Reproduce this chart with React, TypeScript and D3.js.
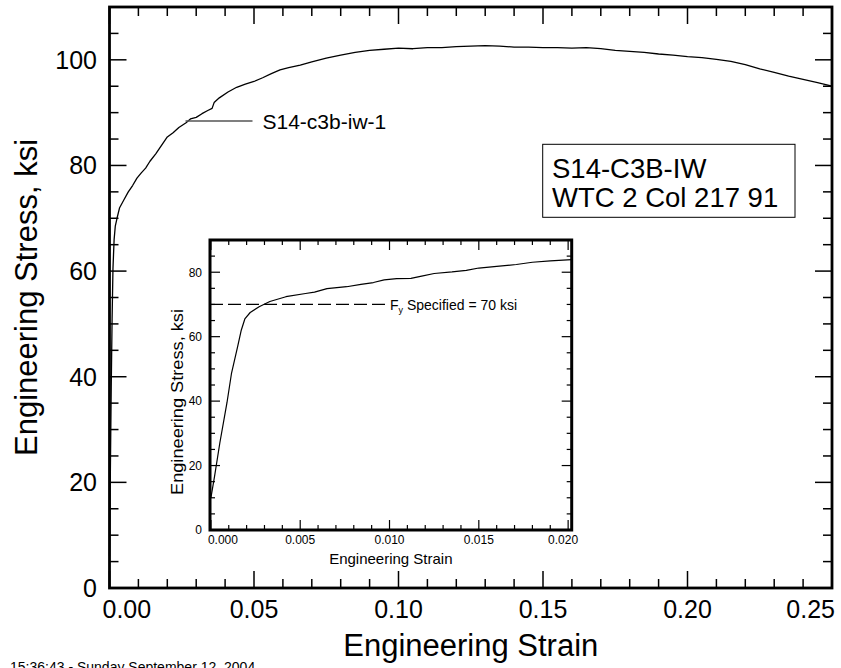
import React from 'react';
import * as d3 from 'd3';

// ---- Data ----
const mainStrain = [0.0, 0.0003, 0.0006, 0.0009, 0.0012, 0.0016, 0.002, 0.0026, 0.0035, 0.005, 0.0065, 0.008, 0.0095, 0.011, 0.0125, 0.014, 0.016, 0.018, 0.02, 0.022, 0.024, 0.0265, 0.028, 0.03, 0.032, 0.034, 0.0355, 0.0362, 0.038, 0.041, 0.044, 0.047, 0.05, 0.053, 0.056, 0.059, 0.062, 0.066, 0.07, 0.075, 0.08, 0.085, 0.09, 0.095, 0.1, 0.105, 0.11, 0.115, 0.12, 0.125, 0.13, 0.135, 0.14, 0.145, 0.15, 0.155, 0.16, 0.165, 0.17, 0.175, 0.18, 0.185, 0.19, 0.195, 0.2, 0.205, 0.21, 0.215, 0.22, 0.225, 0.23, 0.235, 0.24, 0.245, 0.25];
const mainStress = [6, 22, 38, 51, 60.5, 66, 68.5, 70, 72, 73.5, 75, 76.2, 77.6, 78.6, 79.5, 80.8, 82.2, 83.8, 85.4, 86.2, 87.2, 88.1, 88.8, 89.1, 89.8, 90.4, 90.8, 91.9, 92.8, 93.9, 94.8, 95.4, 95.9, 96.6, 97.4, 98.1, 98.5, 99.0, 99.6, 100.3, 100.9, 101.4, 101.8, 102.0, 102.2, 102.1, 102.3, 102.3, 102.5, 102.6, 102.7, 102.6, 102.4, 102.4, 102.3, 102.3, 102.2, 102.3, 102.1, 101.8, 101.6, 101.4, 101.1, 100.9, 100.6, 100.4, 100.1, 99.7, 99.1, 98.3, 97.6, 96.9, 96.3, 95.7, 95.0];

const insetStrain = [0, 0.0002, 0.0005, 0.0009, 0.00115, 0.0015, 0.0017, 0.0019, 0.0022, 0.0027, 0.0033, 0.0042, 0.0053, 0.0058, 0.0065, 0.0076, 0.0084, 0.0091, 0.0097, 0.0104, 0.0112, 0.0118, 0.0125, 0.0135, 0.0143, 0.015, 0.016, 0.0171, 0.018, 0.019, 0.0202];
const insetStress = [10, 16.5, 27, 39.5, 48.5, 57, 62, 65.5, 67.5, 69.3, 70.9, 72.4, 73.4, 73.8, 74.9, 75.5, 76.2, 76.8, 77.6, 78.0, 78.1, 78.8, 79.6, 80.1, 80.6, 81.3, 81.8, 82.4, 83.1, 83.5, 83.9];

const mainXTicks = [0, 0.05, 0.1, 0.15, 0.2, 0.25];
const mainXTickLabels = ['0.00', '0.05', '0.10', '0.15', '0.20', '0.25'];
const mainYTicks = [0, 20, 40, 60, 80, 100];
const mainYTickLabels = ['0', '20', '40', '60', '80', '100'];
const insetXTicks = [0, 0.005, 0.01, 0.015, 0.02];
const insetXTickLabels = ['0.000', '0.005', '0.010', '0.015', '0.020'];
const insetYTicks = [0, 20, 40, 60, 80];
const insetYTickLabels = ['0', '20', '40', '60', '80'];
const specifiedFy = 70;
const specimenName = 'S14-C3B-IW';
const specimenLocation = 'WTC 2 Col 217 91';
const curveLabel = 'S14-c3b-iw-1';
const timestamp = '15:36:43 - Sunday September 12, 2004';

const FONT = '"Liberation Sans", Arial, Helvetica, sans-serif';

export default function App() {
  const W = 841, H = 668;
  // main scales
  const x = d3.scaleLinear().domain([0, 0.25]).range([109.5, 832]);
  const y = d3.scaleLinear().domain([0, 110]).range([588, 7]);
  const [x0, x1] = x.range();
  const [y0, y1] = y.range();

  // inset scales
  const ix = d3.scaleLinear().domain([-0.00005, 0.0202]).range([210, 571.7]);
  const iy = d3.scaleLinear().domain([0, 90]).range([530, 240]);
  const [ix0, ix1] = ix.range();
  const [iy0, iy1] = iy.range();

  const mainLine = d3.line<number>().x((_, i) => x(mainStrain[i])).y((d) => y(d));
  const insetLine = d3.line<number>().x((_, i) => ix(insetStrain[i])).y((d) => iy(d));

  const mainXMinor = d3.range(0, 26).map((i) => i / 100);
  const mainYMinor = d3.range(0, 23).map((i) => i * 5);
  const insetXMinor = d3.range(0, 21).map((i) => i / 1000);
  const insetYMinor = d3.range(0, 19).map((i) => i * 5);

  const isMajorX = (v: number) => Math.abs(Math.round(v * 100) % 5) === 0;
  const isMajorY = (v: number) => v % 20 === 0;
  const isMajorIX = (v: number) => Math.round(v * 1000) % 5 === 0;

  const MAJ = 17, MIN = 9;
  const IMAJ = 10, IMIN = 5;

  const labelStrain = 0.0263;
  const labelStress = 88.4;

  return (
    <svg width={W} height={H} style={{ position: 'absolute', left: 0, top: 0, background: '#fff' }} fontFamily={FONT}>
      <rect x={0} y={0} width={W} height={H} fill="#fff" />
      {/* main ticks */}
      <g stroke="#000" strokeWidth={1.5}>
        {mainXMinor.map((v, i) => {
          const len = isMajorX(v) ? MAJ : MIN;
          return (
            <g key={'mx' + i}>
              <line x1={x(v)} x2={x(v)} y1={y0} y2={y0 - len} />
              <line x1={x(v)} x2={x(v)} y1={y1} y2={y1 + len} />
            </g>
          );
        })}
        {mainYMinor.map((v, i) => {
          const len = isMajorY(v) ? MAJ : MIN;
          return (
            <g key={'my' + i}>
              <line x1={x0} x2={x0 + len} y1={y(v)} y2={y(v)} />
              <line x1={x1} x2={x1 - len} y1={y(v)} y2={y(v)} />
            </g>
          );
        })}
      </g>
      {/* curve */}
      <path d={mainLine(mainStress) || ''} fill="none" stroke="#000" strokeWidth={1.3} strokeLinejoin="round" />
      {/* frame */}
      <rect x={x0} y={y1} width={x1 - x0} height={y0 - y1} fill="none" stroke="#000" strokeWidth={2.8} />
      {/* tick labels */}
      <g fontSize={25} fill="#000">
        {mainXTicks.map((v, i) => {
          const last = i === mainXTicks.length - 1;
          const first = i === 0;
          return (
            <text
              key={'xl' + i}
              x={first ? x(v) - 7 : last ? x(v) + 3 : x(v)}
              y={618}
              textAnchor={first ? 'start' : last ? 'end' : 'middle'}
            >
              {mainXTickLabels[i]}
            </text>
          );
        })}
        {mainYTicks.map((v, i) => (
          <text key={'yl' + i} x={97} y={y(v)} dy="0.36em" textAnchor="end">
            {mainYTickLabels[i]}
          </text>
        ))}
      </g>
      {/* axis titles */}
      <text x={(x0 + x1) / 2} y={656} fontSize={31} textAnchor="middle">Engineering Strain</text>
      <text transform={`translate(37, ${(y0 + y1) / 2}) rotate(-90)`} fontSize={31} textAnchor="middle">
        Engineering Stress, ksi
      </text>

      {/* curve label */}
      <line x1={x(labelStrain)} x2={x(labelStrain) + 67} y1={y(labelStress)} y2={y(labelStress)} stroke="#555" strokeWidth={1.5} />
      <text x={x(labelStrain) + 77} y={y(labelStress) + 7.5} fontSize={21}>{curveLabel}</text>

      {/* specimen box */}
      <rect x={542.7} y={144.3} width={252.3} height={73} fill="#fff" stroke="#000" strokeWidth={1} />
      <text x={552} y={178.3} fontSize={27.5}>{specimenName}</text>
      <text x={552} y={206.7} fontSize={27.5}>{specimenLocation}</text>

      {/* inset */}
      <rect x={ix0} y={iy1} width={ix1 - ix0} height={iy0 - iy1} fill="#fff" />
      <g stroke="#000" strokeWidth={1.2}>
        {insetXMinor.map((v, i) => {
          const len = isMajorIX(v) ? IMAJ : IMIN;
          return (
            <g key={'ix' + i}>
              <line x1={ix(v)} x2={ix(v)} y1={iy0} y2={iy0 - len} />
              <line x1={ix(v)} x2={ix(v)} y1={iy1} y2={iy1 + len} />
            </g>
          );
        })}
        {insetYMinor.map((v, i) => {
          const len = isMajorY(v) ? IMAJ : IMIN;
          return (
            <g key={'iy' + i}>
              <line x1={ix0} x2={ix0 + len} y1={iy(v)} y2={iy(v)} />
              <line x1={ix1} x2={ix1 - len} y1={iy(v)} y2={iy(v)} />
            </g>
          );
        })}
      </g>
      <line x1={ix0} x2={385} y1={iy(specifiedFy)} y2={iy(specifiedFy)} stroke="#000" strokeWidth={1.3} strokeDasharray="13 5" />
      <text x={390} y={iy(specifiedFy) + 5.5} fontSize={14}>
        F<tspan fontSize={9} dy={3.5}>y</tspan>
        <tspan dy={-3.5}> Specified = {specifiedFy} ksi</tspan>
      </text>
      <path d={insetLine(insetStress) || ''} fill="none" stroke="#000" strokeWidth={1.2} strokeLinejoin="round" />
      <rect x={ix0} y={iy1} width={ix1 - ix0} height={iy0 - iy1} fill="none" stroke="#000" strokeWidth={3} />
      <g fontSize={12} fill="#000">
        {insetXTicks.map((v, i) => {
          const last = i === insetXTicks.length - 1;
          const first = i === 0;
          return (
            <text
              key={'ixl' + i}
              x={first ? ix(v) - 3 : last ? ix(v) + 10 : ix(v)}
              y={544}
              textAnchor={first ? 'start' : last ? 'end' : 'middle'}
            >
              {insetXTickLabels[i]}
            </text>
          );
        })}
        {insetYTicks.map((v, i) => (
          <text key={'iyl' + i} x={202} y={iy(v)} dy="0.36em" textAnchor="end">
            {insetYTickLabels[i]}
          </text>
        ))}
      </g>
      <text x={(ix0 + ix1) / 2} y={564} fontSize={15} textAnchor="middle">Engineering Strain</text>
      <text transform={`translate(183, 402) rotate(-90)`} fontSize={16} textAnchor="middle" textLength={186} lengthAdjust="spacingAndGlyphs">
        Engineering Stress, ksi
      </text>

      {/* timestamp */}
      <text x={10} y={672} fontSize={14}>{timestamp}</text>
    </svg>
  );
}
